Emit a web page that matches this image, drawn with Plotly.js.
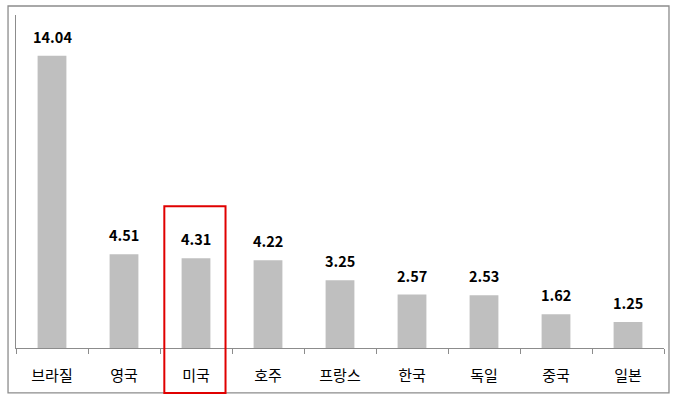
<!DOCTYPE html>
<html>
<head>
<meta charset="utf-8">
<script src="https://cdn.plot.ly/plotly-3.0.1.min.js"></script>
<style>
  html, body { margin: 0; padding: 0; background: #fff; }
  #chart { width: 677px; height: 403px; }
</style>
</head>
<body>
<div id="chart"></div>
<script>
const countries = ["브라질", "영국", "미국", "호주", "프랑스", "한국", "독일", "중국", "일본"]
const values = [14.04, 4.51, 4.31, 4.22, 3.25, 2.57, 2.53, 1.62, 1.25]
const highlight = "미국"

const font = "'Noto Sans CJK KR', 'Noto Sans', sans-serif"

const bars = {
  type: "bar",
  x: countries,
  y: values,
  width: 0.4,
  marker: { color: "#bfbfbf" },
  hoverinfo: "x+y",
}

// value labels above each bar
const labels = countries.map((c, i) => ({
  x: c,
  y: values[i],
  text: "<b>" + values[i].toFixed(2) + "</b>",
  showarrow: false,
  yanchor: "bottom",
  yshift: 7,
  font: { family: font, size: 14.5, color: "#000" },
}))

const hi = countries.indexOf(highlight)

const layout = {
  width: 677,
  height: 403,
  margin: { l: 16, r: 13, t: 15, b: 55 },
  paper_bgcolor: "#fff",
  plot_bgcolor: "#fff",
  showlegend: false,
  font: { family: font, size: 15, color: "#000" },
  xaxis: {
    type: "category",
    showline: true,
    linecolor: "#8c8c8c",
    linewidth: 1,
    ticks: "outside",
    tickson: "boundaries",
    ticklen: 5,
    tickcolor: "#8c8c8c",
    ticklabelstandoff: 14,
    tickfont: { family: font, size: 15, color: "#000" },
    showgrid: false,
    zeroline: false,
  },
  yaxis: {
    range: [0, 16],
    showline: true,
    linecolor: "#8c8c8c",
    linewidth: 1,
    showticklabels: false,
    ticks: "",
    showgrid: false,
    zeroline: false,
  },
  annotations: labels,
  shapes: [
    {
      type: "rect",
      xref: "paper", yref: "paper",
      x0: -0.0123, x1: 1.0077, y0: -0.135, y1: 1.027,
      line: { color: "#8c8c8c", width: 1.3 },
    },
    {
      type: "rect",
      xref: "x", yref: "paper",
      x0: hi - 0.44, x1: hi + 0.41, y0: -0.135, y1: 0.426,
      line: { color: "#e00000", width: 2 },
    },
  ],
}

Plotly.newPlot("chart", [bars], layout, { displayModeBar: false, staticPlot: true })
</script>
</body>
</html>
